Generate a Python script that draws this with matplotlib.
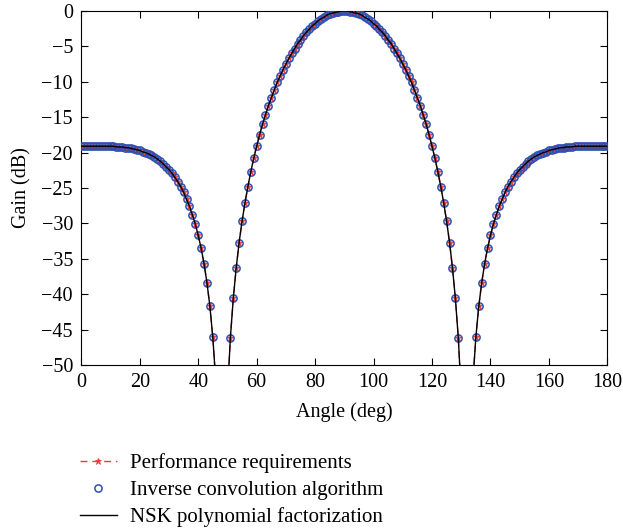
import matplotlib
matplotlib.use('Agg')
import matplotlib.pyplot as plt
import numpy as np

plt.rcParams['font.family'] = ['Liberation Serif', 'DejaVu Serif']

# angle grid (deg), one sample per degree
angle_deg = np.arange(0, 181, 1)

# gain (dB), 0..180 deg
gain_db = [
    -19.1, -19.1, -19.1, -19.1, -19.1, -19.1, -19.1, -19.1, -19.1, -19.1,
    -19.1, -19.1, -19.2, -19.2, -19.2, -19.3, -19.3, -19.4, -19.5, -19.6,
    -19.7, -19.9, -20.0, -20.2, -20.4, -20.6, -20.9, -21.2, -21.6, -22.0,
    -22.4, -22.9, -23.5, -24.1, -24.8, -25.6, -26.6, -27.6, -28.8, -30.1,
    -31.7, -33.5, -35.7, -38.4, -41.7, -46.1, -52.2, -62.5, -94.0, -68.5,
    -54.2, -46.2, -40.6, -36.3, -32.7, -29.7, -27.1, -24.8, -22.7, -20.8,
    -19.1, -17.5, -16.0, -14.7, -13.4, -12.3, -11.2, -10.1, -9.2, -8.3,
    -7.5, -6.7, -6.0, -5.3, -4.6, -4.1, -3.5, -3.0, -2.6, -2.1,
    -1.8, -1.4, -1.1, -0.9, -0.6, -0.4, -0.3, -0.2, -0.1, -0.0,
    0.0,
    -0.0, -0.1, -0.2, -0.3, -0.4, -0.6, -0.9, -1.1, -1.4, -1.8,
    -2.1, -2.6, -3.0, -3.5, -4.1, -4.6, -5.3, -6.0, -6.7, -7.5,
    -8.3, -9.2, -10.1, -11.2, -12.3, -13.4, -14.7, -16.0, -17.5, -19.1,
    -20.8, -22.7, -24.8, -27.1, -29.7, -32.7, -36.3, -40.6, -46.2, -54.2,
    -68.5, -94.0, -62.5, -52.2, -46.1, -41.7, -38.4, -35.7, -33.5, -31.7,
    -30.1, -28.8, -27.6, -26.6, -25.6, -24.8, -24.1, -23.5, -22.9, -22.4,
    -22.0, -21.6, -21.2, -20.9, -20.6, -20.4, -20.2, -20.0, -19.9, -19.7,
    -19.6, -19.5, -19.4, -19.3, -19.3, -19.2, -19.2, -19.2, -19.1, -19.1,
    -19.1, -19.1, -19.1, -19.1, -19.1, -19.1, -19.1, -19.1, -19.1, -19.1,
]

labels = ['Performance requirements',
          'Inverse convolution algorithm',
          'NSK polynomial factorization']
x_ticks = list(range(0, 181, 20))
y_ticks = list(range(-50, 1, 5))

fig = plt.figure(figsize=(6.23, 5.28), dpi=100)
ax = fig.add_axes([0.1305, 0.3087, 0.8444, 0.6705])

h1, = ax.plot(angle_deg, gain_db, '--', color='#e83e3e', lw=1.0, dashes=(5, 3.5),
              marker='*', ms=4.5, mew=0.6, zorder=2)
h2, = ax.plot(angle_deg, gain_db, 'o', ls='none', mfc='none', mec='#2f4fb0',
              ms=5.2, mew=1.1, zorder=3)
h3, = ax.plot(angle_deg, gain_db, '-', color='black', lw=1.0, zorder=4)

ax.set_xlim(0, 180)
ax.set_ylim(-50, 0)
ax.set_xticks(x_ticks)
ax.set_yticks(y_ticks)
ax.tick_params(direction='in', top=True, right=True, length=5, width=0.8,
               labelsize=14.5, pad=6)
for spine in ax.spines.values():
    spine.set_linewidth(0.8)

ax.set_xlabel('Angle (deg)', fontsize=14.5, labelpad=7)
ax.set_ylabel('Gain (dB)', fontsize=14.5, labelpad=7)

fig.legend([h1, h2, h3], labels, loc='upper left', bbox_to_anchor=(0.128, 0.142),
           frameon=False, fontsize=15, handlelength=1.8, handletextpad=0.6,
           labelspacing=0.36, borderpad=0, borderaxespad=0)

fig.savefig('out.png', dpi=100)
